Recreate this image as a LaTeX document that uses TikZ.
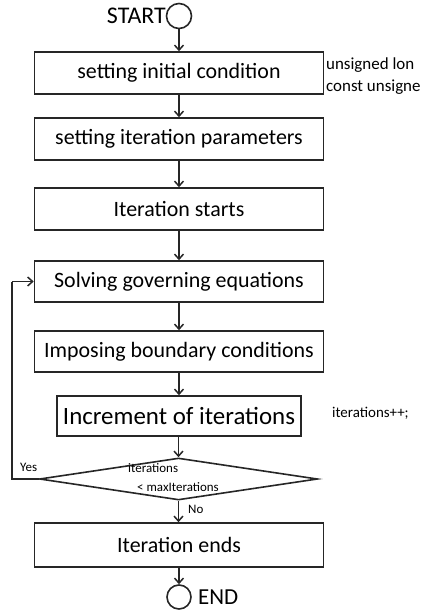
\documentclass[tikz,border=0pt]{standalone}
\usepackage{fontspec}
\setmainfont{Carlito}
\usetikzlibrary{arrows.meta,shapes.geometric}
\tikzset{
  stepbox/.style={draw=black!85, line width=1.6bp, minimum width=289bp, minimum height=42bp,
    inner sep=0pt, font=\fontsize{22}{25}\selectfont},
  termcircle/.style={draw=black!85, line width=1.6bp, circle, minimum size=25bp, inner sep=0pt},
  decision/.style={draw=black!85, line width=1.6bp, diamond, minimum width=278bp, minimum height=42bp,
    inner sep=0pt},
  flow/.style={draw=black!85, line width=1.5bp, -{Straight Barb[length=5bp,width=9bp]}},
  plain/.style={draw=black!85, line width=1.5bp},
  note/.style={inner sep=0pt, anchor=west},
}
\begin{document}
\begin{tikzpicture}[x=1bp,y=-1bp]
\useasboundingbox (0,0) rectangle (423,611);

% terminals
\node[termcircle] (start) at (179,16) {};
\node[anchor=east, inner sep=0pt, font=\fontsize{24}{28}\selectfont] (starttxt) at (166,16) {START};

% process boxes
\node[stepbox] (b1) at (179,73) {setting initial condition};
\node[stepbox] (b2) at (179,139) {setting iteration parameters};
\node[stepbox] (b3) at (179,209) {Iteration starts};
\node[stepbox, minimum height=41bp] (b4) at (179,281.5) {Solving governing equations};
\node[stepbox, minimum height=41bp] (b5) at (179,351.5) {Imposing boundary conditions};
\node[stepbox, minimum width=244bp, minimum height=40bp, font=\fontsize{25}{29}\selectfont] (b6) at (179,416) {Increment of iterations};
\node[decision] (d) at (178.5,479) {};
\node[stepbox, minimum height=44bp] (b7) at (179,545) {Iteration ends};
\node[termcircle, minimum size=24bp] (end) at (179,597) {};
\node[anchor=west, inner sep=0pt, font=\fontsize{23}{27}\selectfont] (endtxt) at (198,597) {END};

% decision text
\node[note, font=\fontsize{13}{15}\selectfont] (dt1) at (128,468) {iterations};
\node[note, font=\fontsize{13}{15}\selectfont] (dt2) at (137,487) {< maxIterations};

% side notes
\node[note, font=\fontsize{17}{20}\selectfont] (n1) at (326,65) {unsigned lon};
\node[note, font=\fontsize{17}{20}\selectfont] (n2) at (326,87) {const unsigne};
\node[note, font=\fontsize{15}{18}\selectfont] (n3) at (332,413) {iterations++;};

% branch labels
\node[note, font=\fontsize{13}{15}\selectfont] (yes) at (20,467) {Yes};
\node[note, font=\fontsize{13}{15}\selectfont] (no) at (188,509) {No};

% main flow
\draw[flow] (start) -- (b1);
\draw[flow] (b1) -- (b2);
\draw[flow] (b2) -- (b3);
\draw[flow] (b3) -- (b4);
\draw[flow] (b4) -- (b5);
\draw[flow] (b5) -- (b6);
\draw[flow] (b6.south -| d.north) -- (d.north);
\draw[flow] (d.south) -- (b7.north -| d.south);
\draw[flow] (b7) -- (end);

% loop back on "Yes"
\coordinate (lb) at (12,479);
\coordinate (lt) at (12,281.5);
\draw[plain] (d.west) -- (lb) -- (lt);
\draw[flow] (lt) -- (b4.west);
\end{tikzpicture}
\end{document}
